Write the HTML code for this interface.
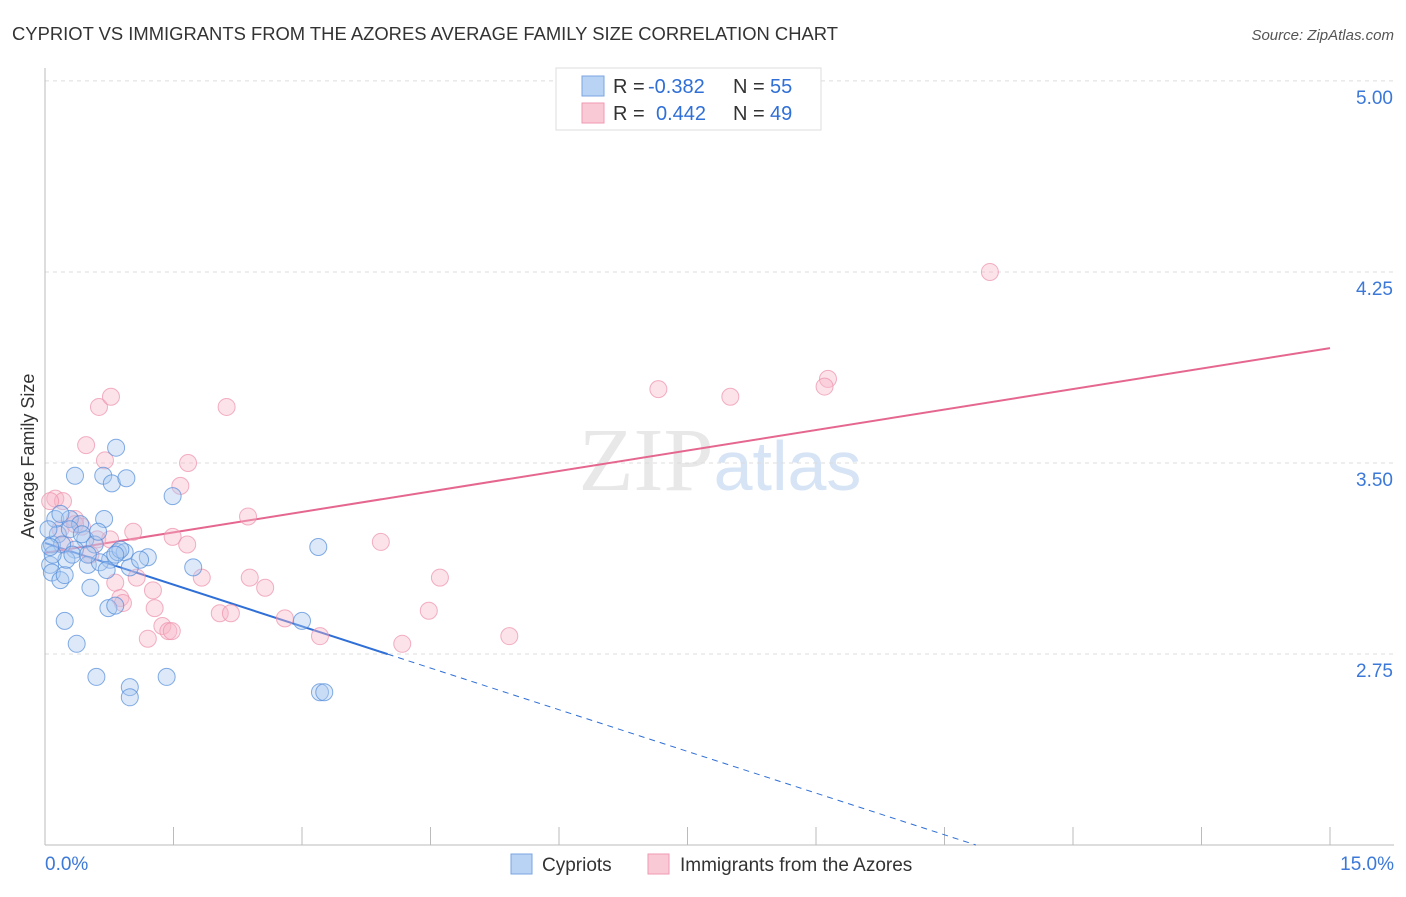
<!DOCTYPE html>
<html><head><meta charset="utf-8"><style>
body{margin:0;background:#fff;font-family:"Liberation Sans",sans-serif}
</style></head><body>
<svg id="chart" width="1406" height="892" xmlns="http://www.w3.org/2000/svg" font-family="Liberation Sans, sans-serif">
<text x="12" y="40" font-size="18" fill="#333" textLength="826" lengthAdjust="spacingAndGlyphs">CYPRIOT VS IMMIGRANTS FROM THE AZORES AVERAGE FAMILY SIZE CORRELATION CHART</text>
<text x="1394" y="40" font-size="15" fill="#555" font-style="italic" text-anchor="end">Source: ZipAtlas.com</text>
<text x="720" y="490" font-size="90" fill="#e8e8e8" text-anchor="middle" font-family="Liberation Serif, serif">ZIP<tspan fill="#d6e4f5" font-family="Liberation Sans, sans-serif" font-size="70">atlas</tspan></text>
<text transform="translate(34,456) rotate(-90)" font-size="18" fill="#333" text-anchor="middle">Average Family Size</text>
<g id="grid"></g><g id="axes"></g><g id="trends"></g><g id="pts"></g>
<g>
<rect x="556" y="68" width="265" height="62" fill="#fff" stroke="#ddd"/>
<rect x="582" y="76" width="22" height="20" fill="#b9d3f5" stroke="#7aa5e0"/>
<rect x="582" y="103" width="22" height="20" fill="#f9c9d6" stroke="#ef9ab2"/>
<text x="613" y="93" font-size="20" fill="#333">R =</text>
<text x="648" y="93" font-size="20" fill="#2f6fd6">-0.382</text>
<text x="733" y="93" font-size="20" fill="#333">N =</text>
<text x="770" y="93" font-size="20" fill="#2f6fd6">55</text>
<text x="613" y="120" font-size="20" fill="#333">R =</text>
<text x="656" y="120" font-size="20" fill="#2f6fd6">0.442</text>
<text x="733" y="120" font-size="20" fill="#333">N =</text>
<text x="770" y="120" font-size="20" fill="#2f6fd6">49</text>
</g>
<g>
<rect x="511" y="854" width="21" height="20" fill="#b9d3f5" stroke="#7aa5e0"/>
<text x="542" y="871" font-size="19" fill="#333">Cypriots</text>
<rect x="648" y="854" width="21" height="20" fill="#f9c9d6" stroke="#ef9ab2"/>
<text x="680" y="871" font-size="19" fill="#333">Immigrants from the Azores</text>
</g>
</svg>
<script>
const yTicks=[2.75,3.50,4.25,5.00];
const yTickLabels=["2.75","3.50","4.25","5.00"];
const xTicks=[0,1.5,3,4.5,6,7.5,9,10.5,12,13.5,15];
const xLabels=["0.0%","15.0%"];
const blueX=[0.08,0.12,0.06,0.08,0.18,0.23,0.15,0.29,0.35,0.23,0.37,0.53,0.60,0.68,0.69,0.78,0.83,0.95,0.76,0.85,0.93,0.99,1.20,1.49,1.73,0.74,0.82,0.99,0.99,1.42,3.00,3.19,3.21,3.26,0.41,0.47,0.35,0.50,0.64,0.20,0.25,0.09,0.29,0.43,0.04,0.32,0.58,0.72,0.88,1.11,0.18,0.62,0.82,0.50,0.06];
const blueY=[3.18,3.28,3.10,3.07,3.04,3.06,3.22,3.28,3.45,2.88,2.79,3.01,2.66,3.45,3.28,3.42,3.56,3.44,3.12,3.15,3.15,3.09,3.13,3.37,3.09,2.93,2.94,2.62,2.58,2.66,2.88,3.17,2.60,2.60,3.26,3.20,3.16,3.10,3.11,3.18,3.12,3.14,3.24,3.22,3.24,3.14,3.18,3.08,3.16,3.12,3.30,3.23,3.14,3.14,3.17];
const pinkX=[11.03,9.14,9.10,7.16,8.00,2.12,0.63,0.77,0.48,0.70,1.67,1.58,0.12,0.21,2.37,1.03,1.49,1.66,3.92,0.61,0.35,4.61,2.39,1.83,1.07,0.82,2.57,1.26,0.88,0.91,1.28,2.04,2.17,4.48,2.80,1.37,1.44,1.48,1.20,3.21,4.17,5.42,0.18,0.23,0.43,0.76,0.53,0.06,0.35];
const pinkY=[4.25,3.83,3.80,3.79,3.76,3.72,3.72,3.76,3.57,3.51,3.50,3.41,3.36,3.35,3.29,3.23,3.21,3.18,3.19,3.20,3.28,3.05,3.05,3.05,3.05,3.03,3.01,3.00,2.97,2.95,2.93,2.91,2.91,2.92,2.89,2.86,2.84,2.84,2.81,2.82,2.79,2.82,3.24,3.18,3.25,3.20,3.14,3.35,3.26];
const blueTrend=[3.186,1.549]; // values at x=0 and x=15
const pinkTrend=[3.147,3.951];
const blueSolidEnd=4.0;
const NS="http://www.w3.org/2000/svg";
const X=v=>45+v/15*1285, Y=v=>654-(v-2.75)*254.7;
function mk(p,t,a){const e=document.createElementNS(NS,t);for(const k in a)e.setAttribute(k,a[k]);document.getElementById(p).appendChild(e);return e;}
yTicks.forEach((t,i)=>{
 const l=mk('grid','line',{x1:45,x2:1394,y1:Y(t),y2:Y(t),stroke:'#ddd','stroke-dasharray':'4,4'});
 
 
 const tx=mk('grid','text',{x:1393,y:Y(t)+23,'font-size':19,fill:'#3b78d8','text-anchor':'end'});tx.textContent=yTickLabels[i];
 
 
});
const ax=mk('axes','line',{x1:45,x2:45,y1:68,y2:845,stroke:'#bbb'});


const bx=mk('axes','line',{x1:45,x2:1394,y1:845,y2:845,stroke:'#bbb'});


xTicks.forEach(t=>{const l=mk('axes','line',{x1:X(t),x2:X(t),y1:827,y2:845,stroke:'#bbb'});
 
 });
const xl0=mk('axes','text',{x:45,y:870,'font-size':19,fill:'#3b78d8'});xl0.textContent=xLabels[0];


const xl1=mk('axes','text',{x:1394,y:870,'font-size':19,fill:'#3b78d8','text-anchor':'end'});xl1.textContent=xLabels[1];


function pts(xs,ys,fill,stroke,name){xs.forEach((x,i)=>{const c=mk('pts','circle',{cx:X(x),cy:Y(ys[i]),r:8.5,fill:fill,'fill-opacity':0.4,stroke:stroke,'stroke-opacity':0.7,'stroke-width':1});
 
 });}
pts(pinkX,pinkY,'#f7b6c8','#ec90ab','azores-point');
pts(blueX,blueY,'#a9c8f0','#4f8ad9','cypriot-point');
const bv=x=>blueTrend[0]+(blueTrend[1]-blueTrend[0])*x/15;
const b1=mk('trends','line',{x1:X(0),y1:Y(bv(0)),x2:X(blueSolidEnd),y2:Y(bv(blueSolidEnd)),stroke:'#2f6fd6','stroke-width':2});


const endX=(2.0-blueTrend[0])/(blueTrend[1]-blueTrend[0])*15;
const b2=mk('trends','line',{x1:X(blueSolidEnd),y1:Y(bv(blueSolidEnd)),x2:X(endX),y2:Y(2.0),stroke:'#2f6fd6','stroke-width':1,'stroke-dasharray':'6,5'});


const p1=mk('trends','line',{x1:X(0),y1:Y(pinkTrend[0]),x2:X(15),y2:Y(pinkTrend[1]),stroke:'#e5678f','stroke-width':2});


</script>
</body></html>
